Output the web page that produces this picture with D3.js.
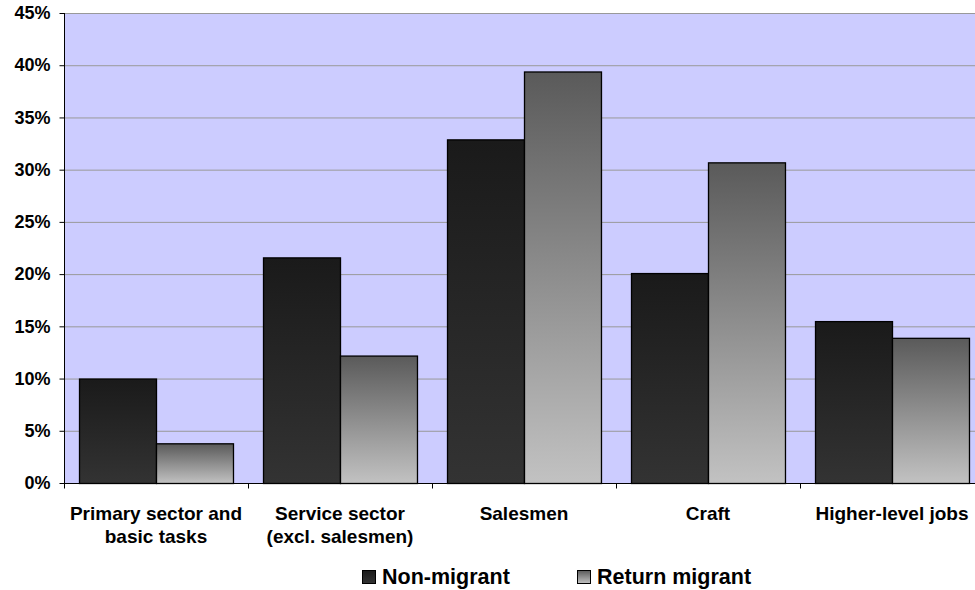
<!DOCTYPE html>
<html><head><meta charset="utf-8">
<script src="https://cdn.jsdelivr.net/npm/d3@7"></script>
<style>body{margin:0;background:#fff}svg{display:block;font-family:"Liberation Sans",Arial,sans-serif;font-weight:bold}</style>
</head><body><svg id="c" width="975" height="590"></svg>
<script>
const categories = [["Primary sector and","basic tasks"],["Service sector","(excl. salesmen)"],["Salesmen"],["Craft"],["Higher-level jobs"]];
const seriesNames = ["Non-migrant","Return migrant"];
const nonMigrant = [0.100, 0.216, 0.329, 0.201, 0.155];
const returnMigrant = [0.038, 0.122, 0.394, 0.307, 0.139];
const yTicks = [0,0.05,0.10,0.15,0.20,0.25,0.30,0.35,0.40,0.45];

const svg = d3.select("#c");
const m = {l:64, t:13, b:483, r:984};
const defs = svg.append("defs");
const g1 = defs.append("linearGradient").attr("id","gNon").attr("x1",0).attr("y1",0).attr("x2",0).attr("y2",1);
g1.append("stop").attr("offset","0%").attr("stop-color","#1a1a1a");
g1.append("stop").attr("offset","100%").attr("stop-color","#333333");
const g2 = defs.append("linearGradient").attr("id","gRet").attr("x1",0).attr("y1",0).attr("x2",0).attr("y2",1);
g2.append("stop").attr("offset","0%").attr("stop-color","#5a5a5a");
g2.append("stop").attr("offset","100%").attr("stop-color","#c2c2c2");
const fills = ["url(#gNon)","url(#gRet)"];

const x = d3.scaleBand().domain(d3.range(categories.length)).range([m.l,m.r]).paddingInner(0).paddingOuter(0);
const x1 = d3.scaleBand().domain([0,1]).range([0,x.bandwidth()]).paddingOuter(0.195).paddingInner(0);
const y = d3.scaleLinear().domain([0,0.45]).range([m.b,m.t]);

svg.append("rect").attr("x",m.l).attr("y",m.t).attr("width",m.r-m.l).attr("height",m.b-m.t).attr("fill","#ccccff");
svg.append("g").selectAll("line").data(yTicks.slice(1)).join("line")
  .attr("x1",m.l).attr("x2",m.r).attr("y1",d=>y(d)+0.5).attr("y2",d=>y(d)+0.5)
  .attr("stroke","#999").attr("stroke-width",1);

const series = [nonMigrant, returnMigrant];
series.forEach((vals,si)=>{
  svg.append("g").selectAll("rect").data(vals).join("rect")
    .attr("x",(d,i)=>x(i)+x1(si)+0.5).attr("y",d=>y(d)+0.5)
    .attr("width",x1.bandwidth()).attr("height",d=>y(0)-y(d))
    .attr("fill",fills[si]).attr("stroke","#000").attr("stroke-width",1.3);
});

const ya = svg.append("g").attr("transform",`translate(${m.l+0.5},0)`)
  .call(d3.axisLeft(y).tickValues(yTicks).tickFormat(d3.format(".0%")).tickSize(5).tickPadding(9));
ya.select(".domain").attr("stroke","#000").attr("d",`M0,${m.t}V${m.b}`);
ya.selectAll("text").attr("font-size",18).attr("font-weight","bold").attr("font-family","Liberation Sans, Arial, sans-serif").attr("fill","#000");

const xa = svg.append("g").attr("transform",`translate(0,${m.b+0.5})`);
xa.append("line").attr("x1",m.l).attr("x2",m.r).attr("stroke","#000");
xa.selectAll("line.t").data(d3.range(categories.length+1)).join("line").attr("class","t")
  .attr("x1",i=>m.l+i*x.bandwidth()+0.5).attr("x2",i=>m.l+i*x.bandwidth()+0.5).attr("y1",0).attr("y2",5).attr("stroke","#000");
const lbl = svg.append("g").selectAll("text").data(categories).join("text")
  .attr("x",(d,i)=>x(i)+x.bandwidth()/2).attr("y",520).attr("text-anchor","middle").attr("font-size",19);
lbl.selectAll("tspan").data(d=>d).join("tspan").attr("x",function(){return this.parentNode.getAttribute("x");})
  .attr("dy",(d,i)=>i?22.5:0).text(d=>d);

const leg = svg.append("g");
const legX = [362,577];
seriesNames.forEach((n,i)=>{
  leg.append("rect").attr("x",legX[i]+0.5).attr("y",570.5).attr("width",13).attr("height",13)
    .attr("fill",fills[i]).attr("stroke","#000");
  leg.append("text").attr("x",legX[i]+20).attr("y",584).attr("font-size",21.5).text(n);
});
</script></body></html>
